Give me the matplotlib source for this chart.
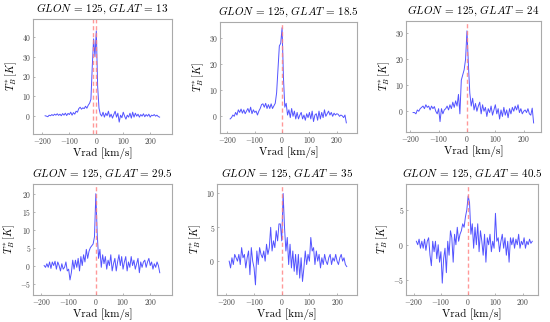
import numpy as np
import matplotlib
matplotlib.use('Agg')
import matplotlib.pyplot as plt

plt.rcParams['font.family'] = 'serif'
plt.rcParams['font.serif'] = ['cmr10']
plt.rcParams['mathtext.fontset'] = 'cm'
plt.rcParams['axes.formatter.use_mathtext'] = True

# radial velocity channels (km/s)
vrad = np.arange(-190, 240, 5)

glon = 125
glat = [13, 18.5, 24, 29.5, 35, 40.5]

# brightness temperature T_B* [K] per pointing
tb_13 = [0.2, 0.0, -0.3, 0.5, 0.2, 0.8, 0.3, 1.0, 0.5, 1.2,
         0.4, 1.0, 0.2, 1.3, 0.5, 1.5, 0.3, 1.4, 0.8, 2.0,
         0.5, 1.8, 1.0, 2.5, 2.0, 3.8, 4.5, 3.5, 4.2, 3.8,
         5.0, 4.0, 5.5, 6.5, 8.5, 25, 39, 30, 43, 15,
         4.0, 1.0, 0.0, 2.0, -0.5, 1.5, 0.2, 2.5, -0.5, 1.0,
         -1.0, 0.8, 2.5, -0.5, 1.5, -3.0, 0.5, -0.8, 2.0, 0.0,
         -1.5, 0.5, -0.5, 1.5, -1.0, 2.0, -0.5, 1.5, 0.0, 1.0,
         -0.5, 0.8, 0.0, 1.2, -0.3, 0.8, 0.0, 1.0, -0.5, 0.5,
         0.2, 0.8, 0.0, 0.5, -0.2, -0.5]
tb_185 = [-1.0, -0.5, 0.5, 0.0, 1.5, 0.5, 2.5, 1.5, 2.8, 1.2,
          2.5, 1.0, 2.0, 3.0, 1.5, 3.5, 1.0, 2.5, 1.5, 2.0,
          0.5, 2.0, 3.0, 4.5, 4.8, 3.5, 5.0, 3.0, 4.5, 3.0,
          4.8, 3.0, 4.0, 5.0, 9.0, 18, 27, 28, 34, 15,
          3.5, 5.0, 0.5, 2.5, -0.5, 3.0, 0.0, 2.0, -1.0, 1.5,
          -1.0, 0.5, 1.5, -1.0, 0.5, -1.5, 1.0, -0.5, 1.5, -1.0,
          2.0, -2.0, 0.5, 1.0, -1.5, 2.0, -1.0, 1.5, -0.5, 2.5,
          0.0, 1.0, 2.0, 0.5, 1.5, 0.0, 1.2, 0.5, 1.0, 0.8,
          0.0, 0.5, 0.2, -0.5, 0.5, -2.5]
tb_24 = [-0.5, -0.5, -1.0, 0.5, 0.0, 1.0, 1.5, 2.0, 1.0, 2.5,
         1.5, 2.0, 0.5, 2.0, 1.0, 1.8, 0.0, -1.0, 1.0, -4.0,
         1.0, -1.0, 0.5, 1.0, 2.0, 0.5, 2.5, 1.0, 3.5, 1.5,
         4.0, 2.0, 6.5, -1.0, 12, 14, 16, 20, 31, 18,
         7.0, 2.0, 5.0, 0.5, 3.0, 0.0, 2.0, 3.5, -1.0, 2.5,
         0.0, 1.5, -2.0, 1.0, -0.5, 2.0, -1.5, 0.5, 2.5, -1.0,
         1.0, -3.0, 0.5, -2.0, 1.5, -1.5, 0.5, -2.5, 1.0, -1.0,
         1.5, 0.0, 2.0, 0.5, 2.5, -0.5, 1.0, -1.0, 0.0, 0.5,
         -0.5, 1.0, -1.0, -1.5, 1.2, -4.5]
tb_295 = [0.0, -0.5, 0.5, -0.5, 1.0, -0.8, 1.0, 0.0, 1.2, -1.0,
          1.0, 0.0, -1.5, 0.5, -1.0, -0.5, 1.0, -1.5, -1.0, -4.0,
          -2.0, 1.5, -1.0, 1.5, -0.5, 2.0, -1.5, 2.5, 0.0, 3.0,
          1.0, 4.5, 2.0, 4.0, 5.0, 5.5, 6.0, 8.0, 20, 9.0,
          2.0, 4.5, -0.5, 3.0, 0.5, 2.5, -1.0, 1.5, 0.0, 3.0,
          -1.5, 0.5, 2.0, -1.5, 1.0, 3.0, 0.0, 2.5, -1.0, 1.0,
          2.5, -1.5, 1.0, -0.5, 2.5, 0.0, 1.5, -1.0, 0.5, 2.0,
          -2.0, 1.0, -0.5, 1.0, 1.5, -0.5, 1.0, 2.0, 0.0, 1.0,
          -1.0, 0.5, -0.5, 1.0, 0.0, -2.0]
tb_35 = [0.0, -1.0, 0.5, -0.5, 1.0, 0.5, 0.0, 1.0, -0.5, 2.0,
         0.5, 1.0, -1.0, 0.5, 1.5, -2.0, 2.0, 0.0, -1.0, -3.5,
         1.5, -0.5, 2.0, 1.0, 0.5, 1.5, 0.0, 2.5, 1.0, 2.0,
         5.0, 1.5, 3.0, 2.0, 4.5, 3.0, 5.5, 5.5, 3.0, 10.0,
         5.0, 1.5, 3.5, -0.5, 2.5, -1.0, 1.5, -1.5, 1.0, -2.0,
         1.0, -2.5, 0.5, -3.0, -1.0, 1.5, -0.5, 1.0, 0.0, 3.5,
         1.5, 2.0, -0.5, 1.5, 0.0, 1.0, -1.0, 0.5, -0.5, 1.0,
         0.0, -0.5, 0.5, 1.0, -0.5, 0.5, 0.0, 1.0, 0.0, -0.5,
         0.5, 1.0, 0.0, 0.5, -0.5, -0.8]
tb_405 = [0.5, 0.0, 0.8, -0.5, 0.5, -0.5, 0.8, -0.8, 0.5, 1.0,
          -1.5, -3.0, 0.5, -1.0, 0.5, -2.0, 0.0, -2.5, -1.0, -5.5,
          -2.0, -0.5, -4.0, 0.5, -1.5, 2.0, 1.0, -2.5, 1.5, 0.0,
          2.5, 0.5, 1.5, 2.0, 3.0, 2.5, 4.0, 5.0, 7.0, 6.0,
          1.5, 3.0, -0.5, 2.5, 0.0, 3.0, -1.0, 2.0, 0.5, -1.5,
          1.5, -2.5, 1.0, 0.0, 1.5, -1.0, 0.5, -0.5, 4.5, 0.5,
          1.0, -1.0, 0.5, 1.5, -0.5, 1.0, -1.5, 0.5, -2.5, 1.0,
          0.0, 1.0, -0.5, 0.8, 0.0, 1.5, -0.5, 0.5, 0.0, 1.0,
          -0.5, 0.5, 0.0, 0.8, 0.2, 0.5]
spectra = [tb_13, tb_185, tb_24, tb_295, tb_35, tb_405]

# peak velocities marked with dashed lines
peaks = [[-11, 0], [0], [0], [0], [0], [0]]

xlims = [(-235, 281), (-227, 274), (-215, 261), (-231, 280), (-234, 272), (-228, 256)]
ylims = [(-9, 49), (-6.4, 36.2), (-8, 34.8), (-8.2, 22.7), (-5, 11.4), (-7.2, 8.7)]
yticks = [[0, 10, 20, 30, 40], [0, 10, 20, 30], [0, 10, 20, 30],
          [-5, 0, 5, 10, 15, 20], [0, 5, 10], [-5, 0, 5]]

# axes boxes in pixels: left, right, top, bottom
boxes = [(33, 172, 19, 134), (220, 357, 22, 133), (406, 541, 21, 132),
         (33, 172, 184, 295), (217, 357, 184, 295), (406, 538, 184, 295)]

W, H = 550, 322
fig = plt.figure(figsize=(W / 100, H / 100), dpi=100)

for i in range(6):
    l, r, t, b = boxes[i]
    ax = fig.add_axes([l / W, (H - b) / H, (r - l) / W, (b - t) / H])
    ax.plot(vrad, spectra[i], color='#1a1aff', lw=0.7, alpha=0.75)
    for p in peaks[i]:
        ax.axvline(p, color='#ff8080', ls=(0, (3, 2)), lw=1.0, alpha=0.8)
    ax.set_xlim(xlims[i])
    ax.set_ylim(ylims[i])
    ax.set_xticks([-200, -100, 0, 100, 200])
    ax.set_yticks(yticks[i])
    ax.tick_params(labelsize=5.5, length=1.5, width=0.5, direction='in',
                   colors='#999999', labelcolor='#444444', pad=1.5)
    for s in ax.spines.values():
        s.set_color('#aaaaaa')
        s.set_linewidth(0.8)
    ax.set_title(r'$GLON\,=\,%d,\,GLAT\,=\,%s$' % (glon, glat[i]), fontsize=8, pad=5)
    ax.set_xlabel('Vrad [km/s]', fontsize=8, labelpad=1)
    ax.set_ylabel(r'$T_B^*[K]$', fontsize=7.5, labelpad=2)

fig.savefig('out.png', dpi=100)
